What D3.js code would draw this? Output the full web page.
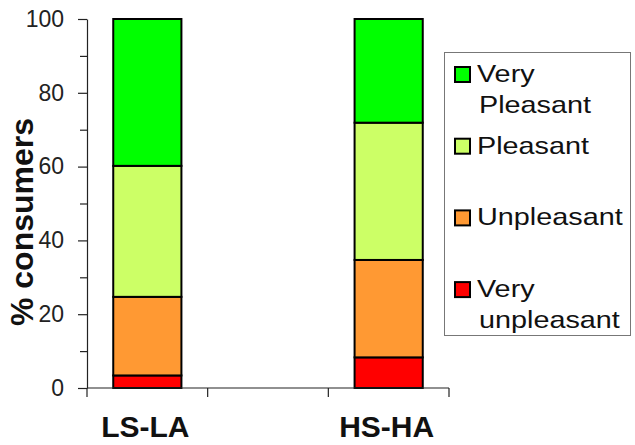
<!DOCTYPE html>
<html>
<head>
<meta charset="utf-8">
<script src="https://cdn.jsdelivr.net/npm/d3@7"></script>
<style>
  html, body { margin: 0; padding: 0; background: #fff; }
  svg { display: block; font-family: "Liberation Sans", Arial, sans-serif; }
</style>
</head>
<body>
<svg id="chart" width="635" height="445"></svg>
<script>
// Consumer liking of the two samples (percent of consumers per hedonic class)
const categories = ["LS-LA", "", "HS-HA"];
const veryUnpleasant = [3.4, 0, 8.3];
const unpleasant = [21.3, 0, 26.4];
const pleasant = [35.5, 0, 37.2];
const veryPleasant = [39.8, 0, 28.1];

const seriesNames = ["Very unpleasant", "Unpleasant", "Pleasant", "Very Pleasant"];
const seriesColors = ["#ff0000", "#ff9933", "#ccff66", "#00ff00"];
const legendLines = [["Very", "Pleasant"], ["Pleasant"], ["Unpleasant"], ["Very", "unpleasant"]];
const yTicks = [0, 10, 20, 30, 40, 50, 60, 70, 80, 90, 100];

const rows = categories.map((c, i) => ({
  category: c,
  "Very unpleasant": veryUnpleasant[i],
  "Unpleasant": unpleasant[i],
  "Pleasant": pleasant[i],
  "Very Pleasant": veryPleasant[i]
}));

const svg = d3.select("#chart");
const plot = { left: 87, right: 449, top: 19, bottom: 388 };

const x = d3.scaleBand().domain(categories).range([plot.left, plot.right]).padding(0);
const y = d3.scaleLinear().domain([0, 100]).range([plot.bottom, plot.top]);
const color = d3.scaleOrdinal().domain(seriesNames).range(seriesColors);

const barWidth = x.bandwidth() * 0.565;
const stacked = d3.stack().keys(seriesNames)(rows);

// stacked bars
svg.append("g")
  .selectAll("g")
  .data(stacked)
  .join("g")
  .attr("fill", d => color(d.key))
  .selectAll("rect")
  .data(d => d)
  .join("rect")
  .attr("x", d => x(d.data.category) + (x.bandwidth() - barWidth) / 2)
  .attr("y", d => y(d[1]))
  .attr("width", barWidth)
  .attr("height", d => y(d[0]) - y(d[1]))
  .attr("stroke", "#000")
  .attr("stroke-width", 2);

// y axis
const yAxis = svg.append("g")
  .attr("transform", `translate(${plot.left},0)`)
  .call(d3.axisLeft(y)
    .tickValues(yTicks)
    .tickSize(0)
    .tickSizeOuter(0)
    .tickFormat(d => d % 20 === 0 ? d : ""));
yAxis.select(".domain").attr("stroke", "#222").attr("stroke-width", 1.2);
yAxis.selectAll(".tick line")
  .attr("x2", d => d === 0 ? -9 : (d % 20 === 0 ? -9 : -7))
  .attr("stroke", "#222").attr("stroke-width", 1.2);
yAxis.selectAll(".tick text")
  .attr("x", -23)
  .attr("font-size", 23)
  .attr("fill", "#222")
  .attr("font-family", "Liberation Sans, Arial, sans-serif");

// x axis line and category boundary ticks
const xAxis = svg.append("g");
xAxis.append("line")
  .attr("x1", plot.left).attr("x2", plot.right)
  .attr("y1", y(0)).attr("y2", y(0))
  .attr("stroke", "#222").attr("stroke-width", 1.2);
const edges = categories.map(c => x(c)).concat([x(categories[categories.length - 1]) + x.bandwidth()]);
xAxis.selectAll("line.edge")
  .data(edges)
  .join("line")
  .attr("class", "edge")
  .attr("x1", d => d).attr("x2", d => d)
  .attr("y1", y(0)).attr("y2", y(0) + 9)
  .attr("stroke", "#222").attr("stroke-width", 1.2);
xAxis.selectAll("text")
  .data(categories)
  .join("text")
  .attr("x", d => x(d) + x.bandwidth() / 2 - 2)
  .attr("y", 437)
  .attr("text-anchor", "middle")
  .attr("font-size", 30)
  .attr("font-weight", "bold")
  .attr("fill", "#111")
  .text(d => d);

// y axis title
svg.append("text")
  .attr("transform", "translate(33,222) rotate(-90)")
  .attr("text-anchor", "middle")
  .attr("font-size", 32)
  .attr("font-weight", "bold")
  .attr("fill", "#111")
  .text("% consumers");

// legend
const legend = svg.append("g");
legend.append("rect")
  .attr("x", 444.5).attr("y", 52.5)
  .attr("width", 186).attr("height", 283)
  .attr("fill", "#fff")
  .attr("stroke", "#777").attr("stroke-width", 1);

const legendOrder = seriesNames.slice().reverse();
const item = legend.selectAll("g.item")
  .data(legendOrder)
  .join("g")
  .attr("class", "item")
  .attr("transform", (d, i) => `translate(0,${82 + i * 71.7})`);
item.append("rect")
  .attr("x", 455).attr("y", -15)
  .attr("width", 15).attr("height", 15)
  .attr("fill", d => color(d))
  .attr("stroke", "#000").attr("stroke-width", 2);
item.each(function(d, i) {
  const g = d3.select(this);
  legendLines[i].forEach((line, j) => {
    g.append("text")
      .attr("transform", `translate(${j === 0 ? 477 : 479},${j * 31}) scale(1.2,1)`)
      .attr("font-size", 24)
      .attr("fill", "#111")
      .text(line);
  });
});
</script>
</body>
</html>
